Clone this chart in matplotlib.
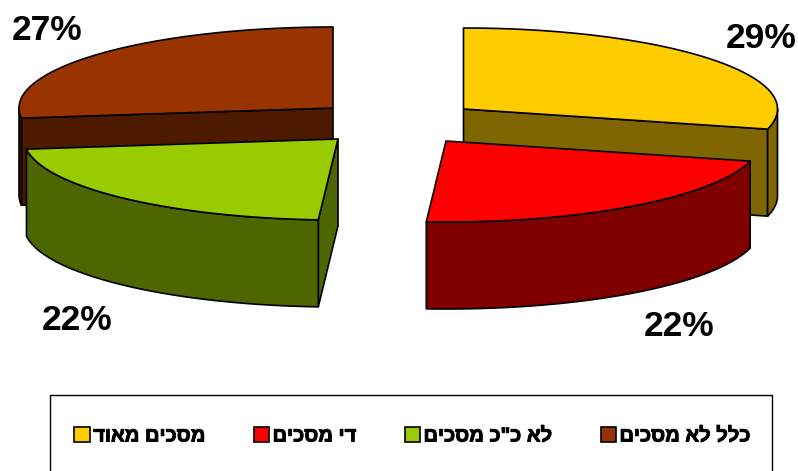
import numpy as np
import matplotlib
matplotlib.use("Agg")
import matplotlib.pyplot as plt
import matplotlib.patheffects as pe
from matplotlib.patches import Polygon, Rectangle, Patch

categories = ["מסכים מאוד", "די מסכים", 'לא כ"כ מסכים', "כלל לא מסכים"]
values = [29, 22, 22, 27]
top_colors = ["#FFCC00", "#FF0000", "#99CC00", "#993300"]
side_colors = ["#806600", "#800000", "#4D6600", "#4D1A00"]

# apex of each exploded slice in pixels, and label centres
apex = [(463.5, 109), (446, 141), (338, 139), (333, 108)]
label_pos = [(761, 38), (679, 327), (77, 320), (47, 30)]
RX, RY, DEPTH = 314, 81, 87


def rim(cx, cy, a0, a1, n=80):
    # angles are clockwise from the top of the pie
    t = np.radians(np.linspace(a0, a1, n))
    return np.column_stack([cx + RX * np.sin(t), cy - RY * np.cos(t)])


def add_poly(ax, pts, color):
    ax.add_patch(Polygon(pts, closed=True, facecolor=color, edgecolor="black",
                         linewidth=1.2, joinstyle="round"))


fig = plt.figure(figsize=(7.98, 4.71), dpi=100)
ax = fig.add_axes([0, 0, 1, 1])
ax.set_xlim(0, 798)
ax.set_ylim(471, 0)
ax.axis("off")

# slice angles from the values
edges = np.concatenate([[0], np.cumsum(values)]) / np.sum(values) * 360
down = np.array([0, DEPTH])

# back slices first, then the front ones
for i in [0, 3, 1, 2]:
    a0, a1 = edges[i], edges[i + 1]
    cx, cy = apex[i]
    c = np.array([cx, cy])
    # cut faces
    for a in (a0, a1):
        p = rim(cx, cy, a, a, 1)[0]
        if (i == 0 and a == a1) or (i == 3 and a == a0) or (i == 2 and a == a0):
            add_poly(ax, [c, p, p + down, c + down], side_colors[i])
    # outer wall, only the part facing the viewer
    w0, w1 = max(a0, 90), min(a1, 270)
    if w1 > w0:
        arc = rim(cx, cy, w0, w1)
        add_poly(ax, np.vstack([arc, (arc + down)[::-1]]), side_colors[i])
    add_poly(ax, np.vstack([[c], rim(cx, cy, a0, a1)]), top_colors[i])

for v, (x, y) in zip(values, label_pos):
    ax.text(x, y, f"{v}%", ha="center", va="center", family="Liberation Sans",
            fontweight="bold", fontsize=25.5, color="black")

# legend box runs off the bottom of the picture
# matplotlib has no bidi, so Hebrew is reversed for display
ax.add_patch(Rectangle((49.5, 394.5), 722.5, 90, facecolor="white", edgecolor="black", linewidth=1))
handles = [Patch(facecolor=c, edgecolor="black", linewidth=1.2) for c in top_colors]
leg = ax.legend(handles, [s[::-1] for s in categories], ncols=4, frameon=False,
                loc="center", bbox_to_anchor=(412.5 / 798, 1 - 436 / 471),
                prop={"family": "Liberation Sans", "weight": "bold", "size": 14.5},
                handlelength=0.78, handleheight=0.78, handletextpad=0.15, columnspacing=2.4)
# the Hebrew glyphs come out thin, thicken them a little
for t in leg.get_texts():
    t.set_path_effects([pe.withStroke(linewidth=0.7, foreground="black")])

fig.savefig("out.png", dpi=100)
